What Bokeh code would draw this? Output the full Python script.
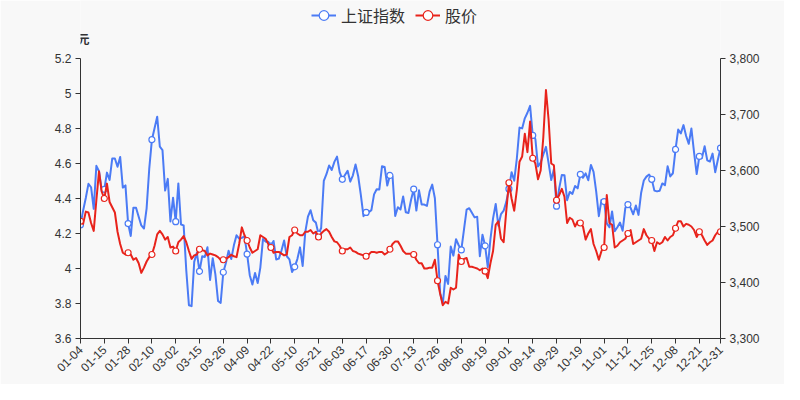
import math
import pandas as pd
from bokeh.plotting import figure
from bokeh.models import (Range1d, LinearAxis, FixedTicker, NumeralTickFormatter,
                          Legend, LegendItem, Label, ColumnDataSource)
from bokeh.embed import file_html
from bokeh.resources import INLINE

# ---- categories: 2021 A-share trading days ----
holidays = ["2021-01-01", "2021-02-11", "2021-02-12", "2021-02-15", "2021-02-16",
            "2021-02-17", "2021-04-05", "2021-05-03", "2021-05-04", "2021-05-05",
            "2021-06-14", "2021-09-20", "2021-09-21", "2021-10-01", "2021-10-04",
            "2021-10-05", "2021-10-06", "2021-10-07"]
days = pd.bdate_range("2021-01-04", "2021-12-31")
dates = [d.strftime("%m-%d") for d in days if d.strftime("%Y-%m-%d") not in holidays]

# ---- series: 上证指数 (right axis) ----
sse = [3502.96, 3528.68, 3550.88, 3576.21, 3570.11, 3531.50, 3608.34, 3598.65, 3565.90, 3566.38,
       3596.22, 3583.09, 3621.26, 3621.39, 3606.75, 3624.24, 3569.43, 3573.34, 3505.18, 3483.07,
       3533.68, 3533.44, 3517.31, 3501.86, 3496.33, 3532.44, 3603.49, 3655.09, 3675.36, 3696.17,
       3642.44, 3636.36, 3564.08, 3585.05, 3509.08,
       3551.40, 3508.59, 3576.90, 3503.49, 3501.99, 3421.41, 3359.29, 3357.74, 3436.83, 3453.08,
       3419.95, 3446.73, 3445.55, 3463.07, 3404.66, 3443.44, 3414.41, 3367.06, 3363.59, 3418.33,
       3435.30, 3456.68, 3441.91,
       3466.33, 3484.39, 3478.17, 3479.63, 3482.48, 3450.68, 3412.95, 3396.47, 3416.85, 3398.99,
       3426.62, 3477.55, 3472.94, 3472.93, 3465.11, 3474.17, 3441.17, 3442.61, 3457.07, 3474.90,
       3446.86,
       3441.28, 3418.87, 3427.99, 3441.85, 3462.75, 3429.54, 3490.38, 3517.62, 3529.01, 3510.96,
       3506.94, 3486.56, 3497.28, 3581.34, 3593.36, 3608.85, 3600.78, 3615.48,
       3624.71, 3597.14, 3584.22, 3591.84, 3599.54, 3580.11, 3591.40, 3610.86, 3589.75, 3556.56,
       3518.33, 3525.10, 3525.60, 3529.18, 3557.41, 3566.65, 3566.22, 3607.56, 3606.37, 3573.18,
       3591.20,
       3588.78, 3518.76, 3534.32, 3530.26, 3553.72, 3525.50, 3524.09, 3547.84, 3566.58, 3528.50,
       3564.59, 3539.30, 3539.12, 3536.79, 3562.38, 3574.73, 3550.40, 3467.44, 3381.18, 3361.59,
       3411.72, 3397.36,
       3464.29, 3447.99, 3477.22, 3466.56, 3458.23, 3494.63, 3529.93, 3532.62, 3524.74, 3516.30,
       3517.34, 3446.98, 3485.29, 3465.55, 3427.33, 3477.13, 3514.47, 3540.38, 3501.66, 3522.16,
       3528.15, 3543.94,
       3567.10, 3597.04, 3581.73, 3621.86, 3676.59, 3675.19, 3693.13, 3703.11, 3715.37, 3662.60,
       3656.22, 3607.09, 3613.97, 3628.49, 3642.22, 3613.07, 3582.83, 3602.22, 3536.29, 3568.17,
       3592.17, 3591.71, 3546.94, 3561.76, 3558.28, 3572.37, 3568.14, 3593.15, 3587.00, 3594.78,
       3582.60, 3609.86, 3597.64, 3562.31, 3518.42, 3547.34,
       3544.48, 3505.63, 3498.54, 3526.87, 3491.57, 3498.63, 3507.00, 3492.46, 3532.79, 3539.10,
       3533.30, 3521.79, 3537.37, 3520.71, 3560.37, 3582.08, 3589.09, 3592.70, 3584.18, 3564.09,
       3562.70, 3563.89,
       3576.89, 3573.84, 3607.43, 3589.31, 3595.09, 3637.57, 3673.04, 3666.35, 3681.08, 3661.53,
       3647.63, 3675.02, 3632.36, 3593.60, 3625.13, 3622.62, 3643.34, 3618.05, 3615.97, 3630.11,
       3597.00, 3619.19, 3639.78]

# ---- series: 股价 (left axis, 元) ----
price = [4.27, 4.255, 4.325, 4.32, 4.26, 4.215, 4.39, 4.555, 4.44, 4.40,
         4.485, 4.38, 4.35, 4.32, 4.21, 4.14, 4.09, 4.08, 4.09, 4.08,
         4.05, 4.06, 4.03, 3.975, 4.005, 4.04, 4.065, 4.08, 4.13, 4.195,
         4.215, 4.195, 4.165, 4.18, 4.12, 4.125, 4.10, 4.15, 4.165, 4.185,
         4.15, 4.10, 4.055, 4.075, 4.08, 4.11, 4.105, 4.10, 4.075, 4.085,
         4.08, 4.075, 4.065, 4.05, 4.05, 4.055, 4.065, 4.078, 4.07, 4.065,
         4.14, 4.235, 4.19, 4.16, 4.12, 4.09, 4.10, 4.11, 4.19, 4.18,
         4.17, 4.14, 4.12, 4.09, 4.095, 4.095, 4.085, 4.075, 4.08, 4.18,
         4.19, 4.22, 4.20, 4.19, 4.19, 4.21, 4.21, 4.22, 4.20, 4.21,
         4.18, 4.20, 4.215, 4.225, 4.21, 4.18, 4.155, 4.15, 4.13, 4.10,
         4.11, 4.11, 4.12, 4.10, 4.095, 4.085, 4.08, 4.075, 4.07, 4.08,
         4.095, 4.095, 4.09, 4.095, 4.095, 4.08, 4.09, 4.11, 4.14, 4.155,
         4.155, 4.13, 4.10, 4.085, 4.085, 4.085, 4.08, 4.05, 4.03, 4.03,
         4.00, 4.00, 4.005, 4.005, 4.05, 3.93, 3.855, 3.79, 3.81, 3.80,
         3.89, 3.88, 3.89, 4.08, 4.04, 4.055, 4.06, 4.01, 4.01, 4.005,
         4.00, 3.99, 4.00, 3.985, 3.945, 4.03, 4.10, 4.25, 4.27, 4.17,
         4.15, 4.33, 4.49, 4.40, 4.33, 4.45, 4.61, 4.64, 4.77, 4.665,
         4.84, 4.63, 4.60, 4.51, 4.56, 4.75, 5.02, 4.85, 4.60, 4.59,
         4.39, 4.42, 4.455, 4.41, 4.26, 4.29, 4.28, 4.24, 4.27, 4.26,
         4.24, 4.165, 4.20, 4.225, 4.14, 4.10, 4.05, 4.10, 4.12, 4.42,
         4.26, 4.25, 4.12, 4.13, 4.15, 4.16, 4.17, 4.20, 4.22, 4.14,
         4.15, 4.16, 4.17, 4.225, 4.19, 4.17, 4.16, 4.10, 4.15, 4.14,
         4.15, 4.18, 4.16, 4.18, 4.19, 4.23, 4.27, 4.27, 4.24, 4.255,
         4.25, 4.24, 4.22, 4.18, 4.21, 4.19, 4.16, 4.135, 4.15, 4.16,
         4.19, 4.21, 4.21]

left_ticks = [3.6, 3.8, 4.0, 4.2, 4.4, 4.6, 4.8, 5.0, 5.2]
right_ticks = [3300, 3400, 3500, 3600, 3700, 3800]

BG = "#f8f8f8"
BLUE = "#4b7bf5"
RED = "#e8231b"
AXIS = "#333333"
TXT = "#333333"

# layout geometry (pixels): plotting area 640 x 280, with 58 px of head room
PLOT_W, PLOT_H, HEAD = 640, 280, 58
L_LO, L_HI = left_ticks[0], left_ticks[-1]
R_LO, R_HI = right_ticks[0], right_ticks[-1]
l_top = L_HI + (L_HI - L_LO) * HEAD / PLOT_H
r_top = R_HI + (R_HI - R_LO) * HEAD / PLOT_H

n = len(dates)
xs = list(range(n))
label_idx = list(range(0, n - 1, 9)) + [n - 1]

src = ColumnDataSource(dict(x=xs, sse=sse, price=price))
mk = ColumnDataSource(dict(x=label_idx, sse=[sse[i] for i in label_idx],
                           price=[price[i] for i in label_idx]))

p = figure(frame_width=PLOT_W, frame_height=PLOT_H + HEAD,
           min_border_left=80, min_border_right=64, min_border_top=0, min_border_bottom=46,
           x_range=Range1d(0, n - 1), y_range=Range1d(L_LO, l_top),
           output_backend="svg", toolbar_location=None,
           background_fill_color=BG, border_fill_color=BG, outline_line_color=None)
p.extra_y_ranges = {"idx": Range1d(R_LO, r_top)}
p.xgrid.visible = False
p.ygrid.visible = False

bl = p.line("x", "sse", source=src, y_range_name="idx", line_color=BLUE, line_width=2,
            line_join="round")
bm = p.scatter("x", "sse", source=mk, y_range_name="idx", size=6, line_color=BLUE,
               fill_color="white", line_width=1.2)
rl = p.line("x", "price", source=src, line_color=RED, line_width=2, line_join="round")
rm = p.scatter("x", "price", source=mk, size=6, line_color=RED, fill_color="white",
               line_width=1.2)

def style(ax):
    ax.axis_line_color = AXIS
    ax.major_tick_line_color = AXIS
    ax.minor_tick_line_color = None
    ax.major_tick_out = 5
    ax.major_tick_in = 0
    ax.major_label_text_color = TXT
    ax.major_label_text_font = "Liberation Sans"
    ax.major_label_text_font_size = "12px"
    ax.major_label_standoff = 4

ly = p.yaxis[0]
ly.ticker = FixedTicker(ticks=left_ticks)
ly.formatter = NumeralTickFormatter(format="0.[0]")
ly.bounds = (L_LO, L_HI)
style(ly)

ry = LinearAxis(y_range_name="idx", ticker=FixedTicker(ticks=right_ticks),
                formatter=NumeralTickFormatter(format="0,0"), bounds=(R_LO, R_HI))
style(ry)
p.add_layout(ry, "right")

bx = p.xaxis[0]
bx.ticker = FixedTicker(ticks=label_idx)
bx.major_label_overrides = {i: dates[i] for i in label_idx}
bx.major_label_orientation = math.pi / 4
style(bx)

legend = Legend(items=[LegendItem(label="上证指数", renderers=[bl, bm]),
                       LegendItem(label="股价", renderers=[rl, rm])],
                orientation="horizontal", location=(231, PLOT_H + HEAD - 27),
                background_fill_alpha=0, border_line_alpha=0, padding=0, margin=0,
                spacing=10, label_standoff=5, glyph_width=25, glyph_height=24,
                label_height=16, label_text_font_size="16px",
                label_text_font="Noto Sans CJK SC", label_text_color=TXT)
p.add_layout(legend)

p.add_layout(Label(x=0, y=L_HI, text="元", y_offset=20, x_offset=-3, text_align="left",
                   text_baseline="middle", text_font_size="12px", text_font_style="bold",
                   text_color=TXT, text_font="Noto Sans CJK SC"))

open("out.html", "w").write(file_html(p, INLINE))
